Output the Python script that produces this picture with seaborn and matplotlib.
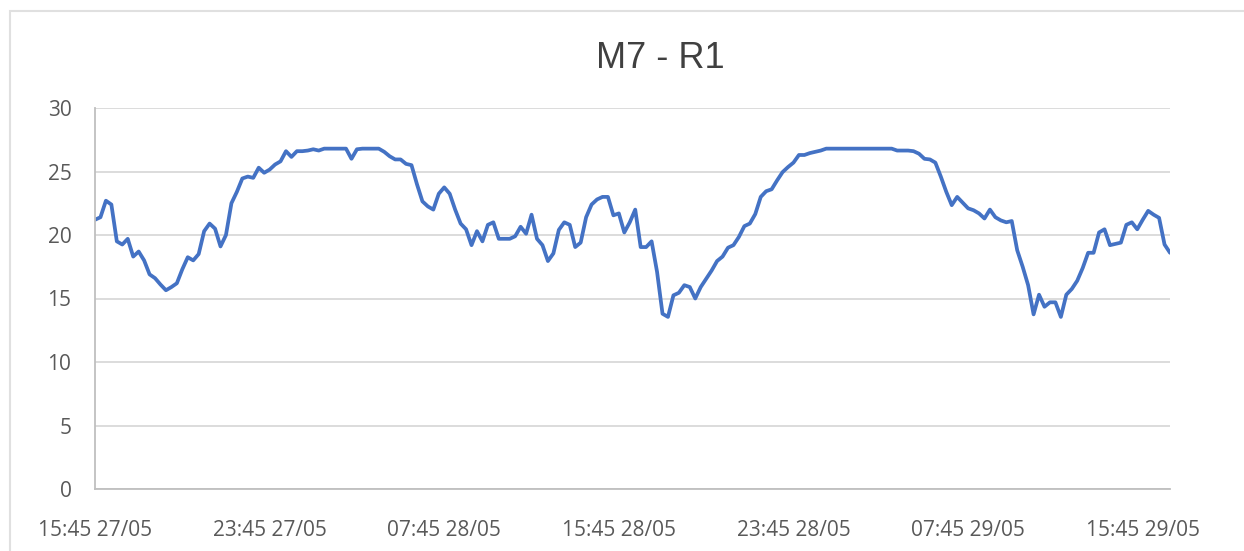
import numpy as np
import pandas as pd
import matplotlib
matplotlib.use("Agg")
import matplotlib.pyplot as plt
import seaborn as sns
from matplotlib.patches import Rectangle

# ---------------- data ----------------
title = "M7 - R1"
tick_labels = ["15:45 27/05", "23:45 27/05", "07:45 28/05", "15:45 28/05",
               "23:45 28/05", "07:45 29/05", "15:45 29/05"]
tick_every = 32  # readings per 8 hours (15-minute readings)

values = [
    21.2, 21.4, 22.7, 22.4, 19.5, 19.25, 19.7, 18.3, 18.7, 18.0,
    16.9, 16.6, 16.1, 15.65, 15.9, 16.2, 17.3, 18.25, 18.0, 18.5,
    20.3, 20.9, 20.5, 19.1, 20.0, 22.5, 23.4, 24.45, 24.6, 24.5,
    25.3, 24.9, 25.15, 25.55, 25.8, 26.6, 26.15, 26.6, 26.6, 26.65,
    26.75, 26.65, 26.8, 26.8, 26.8, 26.8, 26.8, 26.0, 26.75, 26.8,
    26.8, 26.8, 26.8, 26.55, 26.2, 25.95, 25.95, 25.6, 25.5, 24.0,
    22.65, 22.25, 22.0, 23.25, 23.75, 23.25, 22.0, 20.9, 20.45, 19.2,
    20.3, 19.5, 20.8, 21.0, 19.7, 19.7, 19.7, 19.9, 20.65, 20.1,
    21.6, 19.7, 19.2, 17.95, 18.55, 20.4, 21.0, 20.8, 19.05, 19.4,
    21.4, 22.4, 22.8, 23.0, 23.0, 21.55, 21.7, 20.2, 21.0, 22.0,
    19.05, 19.05, 19.5, 17.1, 13.8, 13.55, 15.25, 15.45, 16.05, 15.9,
    15.0, 15.9, 16.55, 17.2, 17.95, 18.3, 19.0, 19.2, 19.85, 20.7,
    20.9, 21.65, 23.0, 23.45, 23.6, 24.3, 24.95, 25.35, 25.7, 26.3,
    26.3, 26.45, 26.55, 26.65, 26.8, 26.8, 26.8, 26.8, 26.8, 26.8,
    26.8, 26.8, 26.8, 26.8, 26.8, 26.8, 26.8, 26.65, 26.65, 26.65,
    26.6, 26.4, 26.0, 25.95, 25.7, 24.6, 23.4, 22.35, 23.0, 22.55,
    22.1, 21.95, 21.7, 21.3, 22.0, 21.4, 21.15, 21.0, 21.1, 18.8,
    17.5, 16.05, 13.75, 15.3, 14.35, 14.7, 14.7, 13.55, 15.3, 15.75,
    16.4, 17.4, 18.6, 18.6, 20.2, 20.45, 19.2, 19.3, 19.4, 20.8,
    21.0, 20.45, 21.2, 21.9, 21.6, 21.35, 19.25, 18.6,
]
y_ticks = [0, 5, 10, 15, 20, 25, 30]

# ---------------- style ----------------
sns.set_theme(style="white")
plt.rcParams['font.family'] = ['Open Sans', 'DejaVu Sans']

W, H = 1244, 551
fig = plt.figure(figsize=(W / 100, H / 100), dpi=100)
ax = fig.add_axes([95 / W, 1 - 489 / H, (1170 - 95) / W, (489 - 108) / H])

df = pd.DataFrame({"idx": np.arange(len(values)), "val": values})
sns.lineplot(data=df, x="idx", y="val", ax=ax, color="#4472C4", linewidth=2.7)

ax.set_xlim(0, len(values) - 1)
ax.set_ylim(0, 30)
ax.set_yticks(y_ticks)
ax.set_yticklabels([str(v) for v in y_ticks])
ax.set_xticks(np.arange(len(tick_labels)) * tick_every)
ax.set_xticklabels(tick_labels)
ax.set_xlabel("")
ax.set_ylabel("")

grid_c = "#d9d9d9"
ax.grid(axis="y", color=grid_c, linewidth=1.3)
ax.grid(axis="x", visible=False)
ax.set_axisbelow(True)
for s in ["top", "right"]:
    ax.spines[s].set_visible(False)
ax.spines["left"].set_color("#bfbfbf")
ax.spines["left"].set_linewidth(1.3)
ax.spines["bottom"].set_color("#bfbfbf")
ax.spines["bottom"].set_linewidth(1.3)

ax.tick_params(axis="both", length=0, labelsize=15, labelcolor="#595959")
ax.tick_params(axis="y", pad=17)
ax.tick_params(axis="x", pad=22)

fig.text(660 / W, 1 - 58 / H, title, ha="center", va="center",
         fontsize=26, color="#404040", family=["Liberation Sans", "DejaVu Sans"])

# chart border
fig.add_artist(Rectangle((10 / W, -0.05), (W + 20) / W, 1.05 - 11 / H,
                         transform=fig.transFigure, fill=False,
                         edgecolor="#e0e0e0", linewidth=1.5))

fig.savefig("out.png", dpi=100, facecolor="white")
